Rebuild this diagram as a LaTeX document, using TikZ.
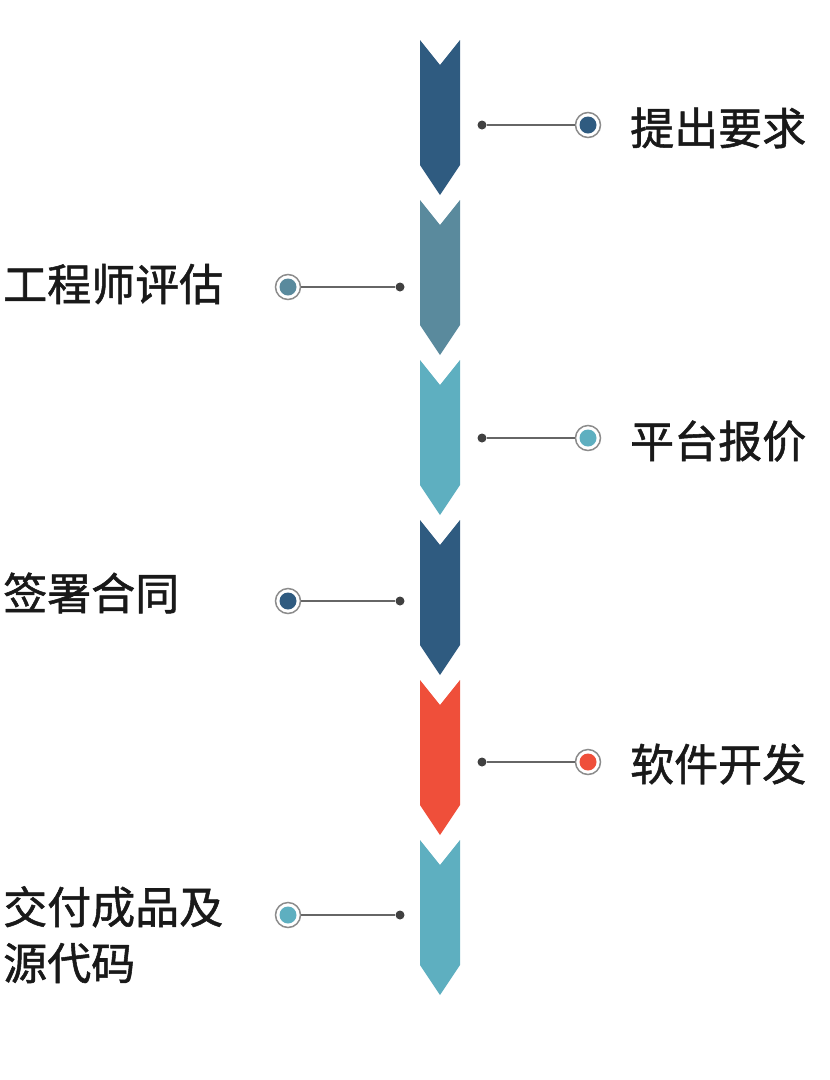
\documentclass[tikz,border=0pt]{standalone}
\usepackage{fontspec}
\newfontfamily\cjk{Noto Sans CJK SC}[FakeBold=1.2]
\usetikzlibrary{positioning}
\definecolor{dblue}{HTML}{2F5B80}
\definecolor{gblue}{HTML}{5A8A9D}
\definecolor{teal}{HTML}{5EAFC0}
\definecolor{red}{HTML}{EF4F3A}
\tikzset{
  dot/.style={circle,fill=black!75,inner sep=0pt,minimum size=9pt},
  ring/.style={circle,draw=black!45,line width=1.5pt,fill=white,inner sep=0pt,minimum size=25pt,
    path picture={\fill[#1] (path picture bounding box.center) circle (8.5pt);}},
  link/.style={draw=black!60,line width=2pt},
  lbl/.style={font=\cjk\fontsize{44}{56}\selectfont,text=black!90,inner sep=0pt}
}
\newcommand{\chev}[2]{\fill[#1] (420,#2) -- (440,#2+25) -- (460,#2) -- (460,#2+125) -- (440,#2+155) -- (420,#2+125) -- cycle;}
\begin{document}
\begin{tikzpicture}[x=1pt,y=-1pt]
  \useasboundingbox (0,0) rectangle (830,1080);
  \chev{dblue}{40}
  \chev{gblue}{200}
  \chev{teal}{360}
  \chev{dblue}{520}
  \chev{red}{680}
  \chev{teal}{840}

  \node[dot] (d1) at (482,125) {};
  \node[ring=dblue] (c1) at (588,125) {};
  \node[lbl,anchor=west] (t1) at (630,128) {提出要求};
  \draw[link] (d1) -- (c1);

  \node[dot] (d2) at (400,287) {};
  \node[ring=gblue] (c2) at (288,287) {};
  \node[lbl,anchor=west] (t2) at (3,284) {工程师评估};
  \draw[link] (c2) -- (d2);

  \node[dot] (d3) at (482,438) {};
  \node[ring=teal] (c3) at (588,438) {};
  \node[lbl,anchor=west] (t3) at (630,441) {平台报价};
  \draw[link] (d3) -- (c3);

  \node[dot] (d4) at (400,601) {};
  \node[ring=dblue] (c4) at (288,601) {};
  \node[lbl,anchor=west] (t4) at (3,593) {签署合同};
  \draw[link] (c4) -- (d4);

  \node[dot] (d5) at (482,762) {};
  \node[ring=red] (c5) at (588,762) {};
  \node[lbl,anchor=west] (t5) at (630,764) {软件开发};
  \draw[link] (d5) -- (c5);

  \node[dot] (d6) at (400,915) {};
  \node[ring=teal] (c6) at (288,915) {};
  \node[lbl,anchor=north west,align=left] (t6) at (3,886) {交付成品及\\源代码};
  \draw[link] (c6) -- (d6);
\end{tikzpicture}
\end{document}
